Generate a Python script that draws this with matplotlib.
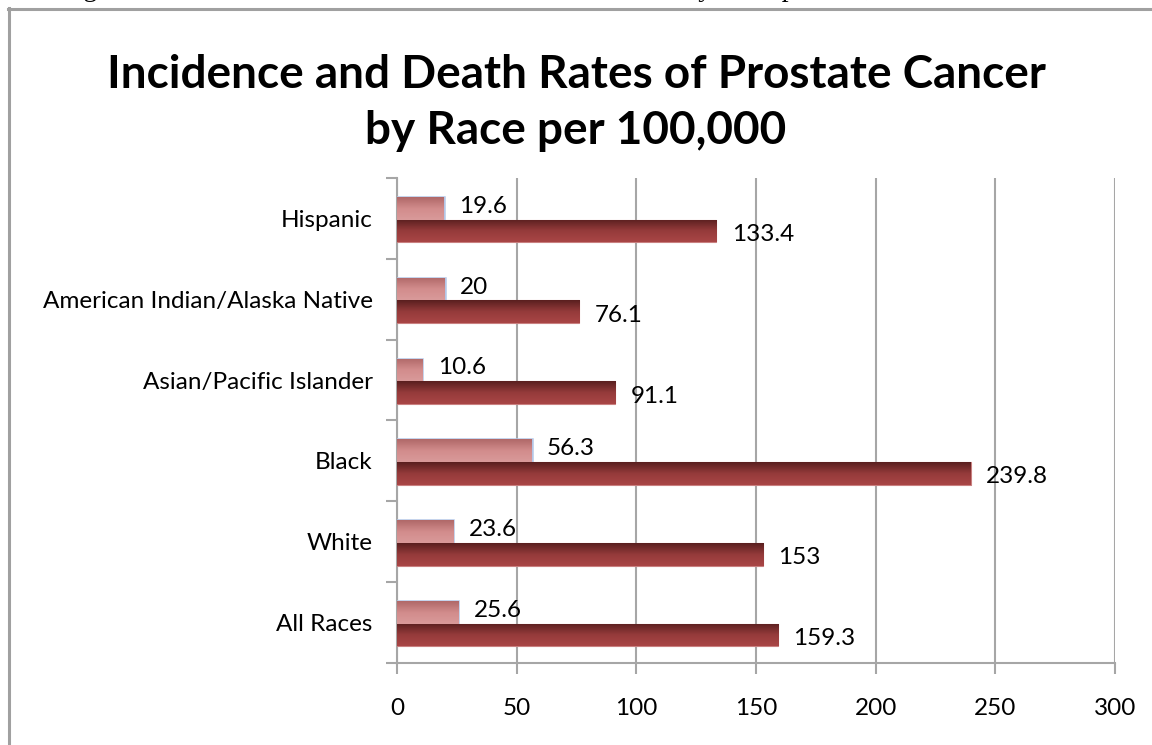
"""Incidence and death rates of prostate cancer by race (horizontal bars)."""
import matplotlib
matplotlib.use("Agg")
import matplotlib.pyplot as plt
import numpy as np
from matplotlib.colors import LinearSegmentedColormap
from matplotlib.lines import Line2D

plt.rcParams.update({
    "font.family": ["Lato", "DejaVu Sans"],
})

W, H = 1152, 745

# bottom-to-top order
races = ["All Races", "White", "Black", "Asian/Pacific Islander",
         "American Indian/Alaska Native", "Hispanic"]
death = [25.6, 23.6, 56.3, 10.6, 20, 19.6]
incidence = [159.3, 153, 239.8, 91.1, 76.1, 133.4]
x_ticks = [0, 50, 100, 150, 200, 250, 300]

GRID = "#a6a6a6"
death_cmap = LinearSegmentedColormap.from_list("d", ["#d99a9a", "#d28c8c", "#b06868"])
inc_cmap = LinearSegmentedColormap.from_list("i", ["#a94646", "#953b3b", "#5a1f1f"])

fig = plt.figure(figsize=(W / 100, H / 100), dpi=100)
fig.patch.set_facecolor("white")

# clipped caption line of the page above the chart
fig.text(60 / W, 1 + 4 / H,
         "Figure 1: Incidence and Death Rates of Prostate Cancer by Race per 100,000",
         family="Liberation Serif", fontsize=20, va="baseline", ha="left")

# chart frame (left + top edges visible)
fig.add_artist(Line2D([9 / W, 9 / W], [0, 1 - 8 / H], color="#a0a0a0", lw=2.2))
fig.add_artist(Line2D([8 / W, 1], [1 - 9 / H, 1 - 9 / H], color="#a0a0a0", lw=2.2))

fig.text(0.5, 1 - 75 / H, "Incidence and Death Rates of Prostate Cancer",
         ha="center", va="center", fontsize=33, fontweight="bold")
fig.text(0.5, 1 - 131 / H, "by Race per 100,000",
         ha="center", va="center", fontsize=33, fontweight="bold")

ax = fig.add_axes([397 / W, 1 - 663 / H, (1115 - 397) / W, (663 - 178) / H])

y = np.arange(len(races))
bh = 0.28
d_bars = ax.barh(y + 0.125, death, height=bh, color="#d39090",
                 edgecolor="#b4c6e7", linewidth=1.8, zorder=3)
i_bars = ax.barh(y - 0.155, incidence, height=bh, color="#953b3b",
                 edgecolor="#c98080", linewidth=0.8, zorder=3)

grad = np.linspace(0, 1, 64).reshape(-1, 1)
for bars, cmap in ((d_bars, death_cmap), (i_bars, inc_cmap)):
    for b in bars:
        x0, y0 = b.get_x(), b.get_y()
        im = ax.imshow(grad, cmap=cmap, origin="lower", aspect="auto",
                       extent=[x0, x0 + b.get_width(), y0, y0 + b.get_height()],
                       zorder=3.5)
        im.set_clip_path(b)

for b, v in zip(d_bars, death):
    ax.annotate(f"{v:g}", (v, b.get_y() + b.get_height() / 2),
                xytext=(11, 1.5), textcoords="offset points",
                va="center", ha="left", fontsize=17.5, zorder=5)
for b, v in zip(i_bars, incidence):
    ax.annotate(f"{v:g}", (v, b.get_y() + b.get_height() / 2),
                xytext=(11, -2.5), textcoords="offset points",
                va="center", ha="left", fontsize=17.5, zorder=5)

ax.set_xlim(0, 300)
ax.set_ylim(-0.5, len(races) - 0.5)
ax.set_xticks(x_ticks)
ax.set_xticklabels([str(t) for t in x_ticks], fontsize=17.5)
ax.set_yticks(y)
ax.set_yticklabels(races, fontsize=17.5)
ax.set_yticks(np.arange(-0.5, len(races), 1), minor=True)

ax.grid(axis="x", color=GRID, linewidth=1.5, zorder=0)
ax.tick_params(axis="y", which="major", length=0, pad=17.5)
ax.tick_params(axis="y", which="minor", length=8, color=GRID, width=1.5)
ax.tick_params(axis="x", length=8, color=GRID, width=1.5, pad=17)
for side in ("top", "right"):
    ax.spines[side].set_visible(False)
for side in ("left", "bottom"):
    ax.spines[side].set_color(GRID)
    ax.spines[side].set_linewidth(1.5)

fig.savefig("out.png", dpi=100)
